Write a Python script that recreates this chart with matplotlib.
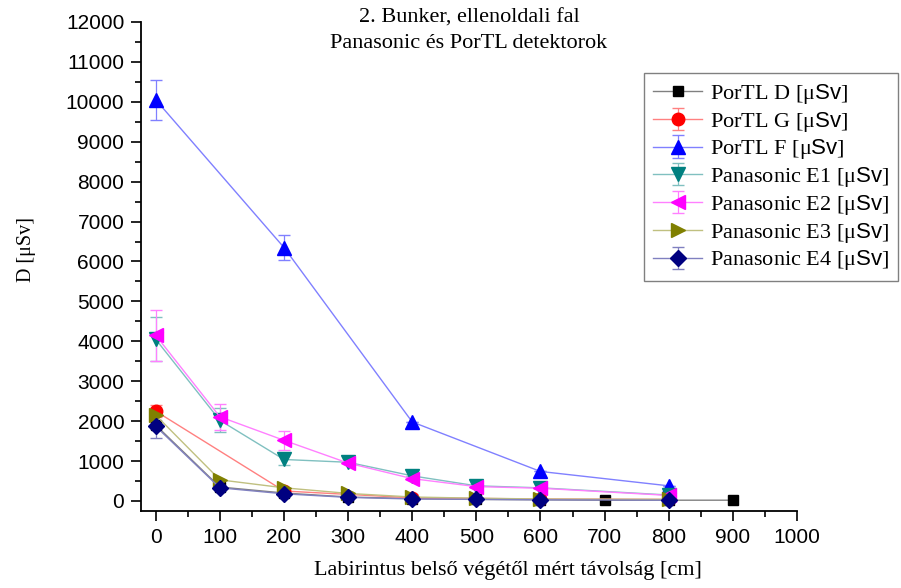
import matplotlib.pyplot as plt
from matplotlib.colors import to_rgb
from matplotlib.ticker import MultipleLocator

plt.rcParams["mathtext.fontset"] = "custom"
plt.rcParams["mathtext.sf"] = "Liberation Sans"
plt.rcParams["mathtext.rm"] = "Liberation Serif"

# distances [cm]
x_d = [0, 100, 200, 300, 400, 500, 600, 700, 800, 900]
x_main = [0, 100, 200, 300, 400, 500, 600, 800]
x_f = [0, 200, 400, 600, 800]
x_g = [0, 200, 400, 600, 800]

# doses [uSv]
portl_d = [1900, 350, 200, 100, 60, 40, 30, 20, 20, 20]
portl_g = [2250, 250, 80, 50, 40]
portl_g_err = [150, 0, 0, 0, 0]
portl_f = [10050, 6350, 1980, 740, 380]
portl_f_err = [500, 320, 0, 0, 0]
pan_e1 = [4050, 2020, 1040, 970, 630, 380, 330, 150]
pan_e1_err = [550, 300, 150, 0, 0, 0, 0, 0]
pan_e2 = [4150, 2110, 1520, 950, 560, 360, 320, 140]
pan_e2_err = [640, 320, 230, 0, 0, 0, 0, 0]
pan_e3 = [2150, 530, 330, 190, 100, 70, 50, 40]
pan_e4 = [1870, 330, 180, 90, 50, 40, 30, 20]
pan_e4_err = [280, 0, 0, 0, 0, 0, 0, 0]

names = ["PorTL D", "PorTL G", "PorTL F", "Panasonic E1", "Panasonic E2",
         "Panasonic E3", "Panasonic E4"]
labels = [n + r" [μ$\mathsf{Sv}$]" for n in names]


def light(c, f=0.5):
    r, g, b = to_rgb(c)
    return (r + (1 - r) * f, g + (1 - g) * f, b + (1 - b) * f)


fig = plt.figure(figsize=(9.01, 5.88), dpi=100)
ax = fig.add_axes([0.1565, 0.131, 0.728, 0.8316])

series = [
    (x_d, portl_d, None, "black", "s", 7),
    (x_g, portl_g, portl_g_err, "red", "o", 9),
    (x_f, portl_f, portl_f_err, "blue", "^", 10),
    (x_main, pan_e1, pan_e1_err, "#008080", "v", 10),
    (x_main, pan_e2, pan_e2_err, "magenta", "<", 10),
    (x_main, pan_e3, None, "#808000", ">", 10),
    (x_main, pan_e4, pan_e4_err, "#000080", "D", 8),
]

for (xs, ys, err, col, mk, ms), lab in zip(series, labels):
    ax.errorbar(xs, ys, yerr=err, color=light(col), lw=1, marker=mk, ms=ms,
                mfc=col, mec=col, capsize=4, elinewidth=0.9, label=lab)

ax.set_xlim(-23, 1000)
ax.set_ylim(-250, 12000)
ax.xaxis.set_major_locator(MultipleLocator(100))
ax.xaxis.set_minor_locator(MultipleLocator(50))
ax.yaxis.set_major_locator(MultipleLocator(1000))
ax.yaxis.set_minor_locator(MultipleLocator(500))
ax.spines[["top", "right"]].set_visible(False)
ax.spines[["left", "bottom"]].set_linewidth(1.3)
ax.tick_params(which="major", length=7, width=1.2, labelsize=15, pad=5)
ax.tick_params(which="minor", length=4, width=1.2)
for t in ax.get_xticklabels() + ax.get_yticklabels():
    t.set_family("Liberation Sans")

serif = "Liberation Serif"
fig.text(508 / 901, 1 - 571 / 588, "Labirintus belső végétől mért távolság [cm]",
         family=serif, fontsize=16, ha="center", va="center")
fig.text(27 / 901, 1 - 250 / 588, "D [μSv]", family=serif, fontsize=14.5,
         rotation=90, ha="center", va="center")
fig.text(469 / 901, 1 - 18 / 588, "2. Bunker, ellenoldali fal",
         ha="center", va="center", family=serif, fontsize=16)
fig.text(469 / 901, 1 - 44 / 588, "Panasonic és PorTL detektorok",
         ha="center", va="center", family=serif, fontsize=16)

leg = ax.legend(loc="upper right", bbox_to_anchor=(1.154, 0.896),
                prop={"family": serif, "size": 16}, fancybox=False,
                framealpha=1, edgecolor="grey", handlelength=2.2,
                labelspacing=0.17, borderpad=0.4, handletextpad=0.35,
                borderaxespad=0)
leg.get_frame().set_linewidth(1.0)

fig.savefig("out.png", dpi=100)
